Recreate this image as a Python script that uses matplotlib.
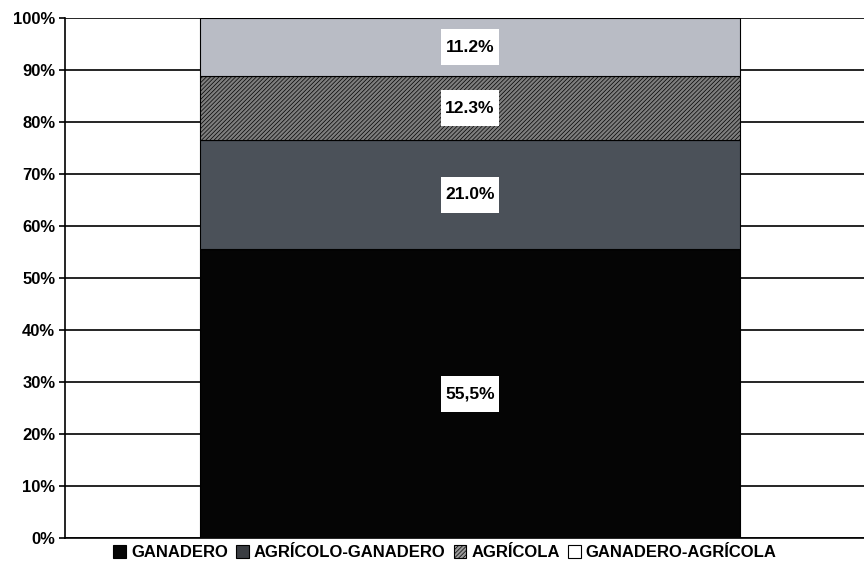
import matplotlib
matplotlib.use('Agg')
import matplotlib.pyplot as plt
from matplotlib.patches import Patch, Rectangle

plt.rcParams['font.family'] = ['Liberation Sans', 'DejaVu Sans']
plt.rcParams['hatch.linewidth'] = 0.5

# data
categories = ['GANADERO', 'AGRÍCOLO-GANADERO', 'AGRÍCOLA', 'GANADERO-AGRÍCOLA']
values = [55.5, 21.0, 12.3, 11.2]
labels = ['55,5%', '21.0%', '12.3%', '11.2%']
colors = ['#050505', '#4b5159', '#7e7e7e', '#b9bcc5']
hatches = [None, None, '////////', None]
legend_colors = ['#050505', '#3a3d42', '#9a9a9a', 'white']

fig = plt.figure(figsize=(8.64, 5.63), dpi=100)
ax_w = 1 - 65 / 864
ax = fig.add_axes([65 / 864, 25 / 563, ax_w, 520 / 563])

x = 0.007
width = 0.676
box_w = 58 / 799
box_h = 36 / 520 * 100
bottom = 0
handles = []
for cat, v, lab, c, h, lc in zip(categories, values, labels, colors, hatches, legend_colors):
    ax.bar(x, v, width=width, bottom=bottom, color=c, edgecolor='black',
           linewidth=0.8, hatch=h, zorder=3)
    yc = bottom + v / 2
    ax.add_patch(Rectangle((x - box_w / 2, yc - box_h / 2), box_w, box_h,
                           facecolor='white', edgecolor='none', zorder=4))
    ax.text(x, yc, lab, ha='center', va='center', fontsize=12.5,
            fontweight='bold', zorder=5)
    handles.append(Patch(facecolor=lc, edgecolor='black', hatch=h,
                         linewidth=0.8, label=cat))
    bottom += v

ax.set_xlim(-0.5, 0.5)
ax.set_ylim(0, 100)
ax.set_yticks(range(0, 101, 10))
ax.set_yticklabels([f'{t}%' for t in range(0, 101, 10)], fontsize=12, fontweight='bold')
ax.set_xticks([])
ax.grid(axis='y', color='black', linewidth=1.2, zorder=0)
ax.tick_params(axis='y', length=4, width=1.2, pad=3)
for s in ['top', 'right']:
    ax.spines[s].set_visible(False)
ax.spines['left'].set_linewidth(1.2)
ax.spines['bottom'].set_linewidth(1.2)

fig.legend(handles=handles, loc='lower center', bbox_to_anchor=(0.515, -0.022), ncol=4,
           frameon=False, handlelength=0.75, handleheight=0.75, handletextpad=0.3,
           columnspacing=0.5, prop={'weight': 'bold', 'size': 12})

fig.savefig('out.png', dpi=100)
